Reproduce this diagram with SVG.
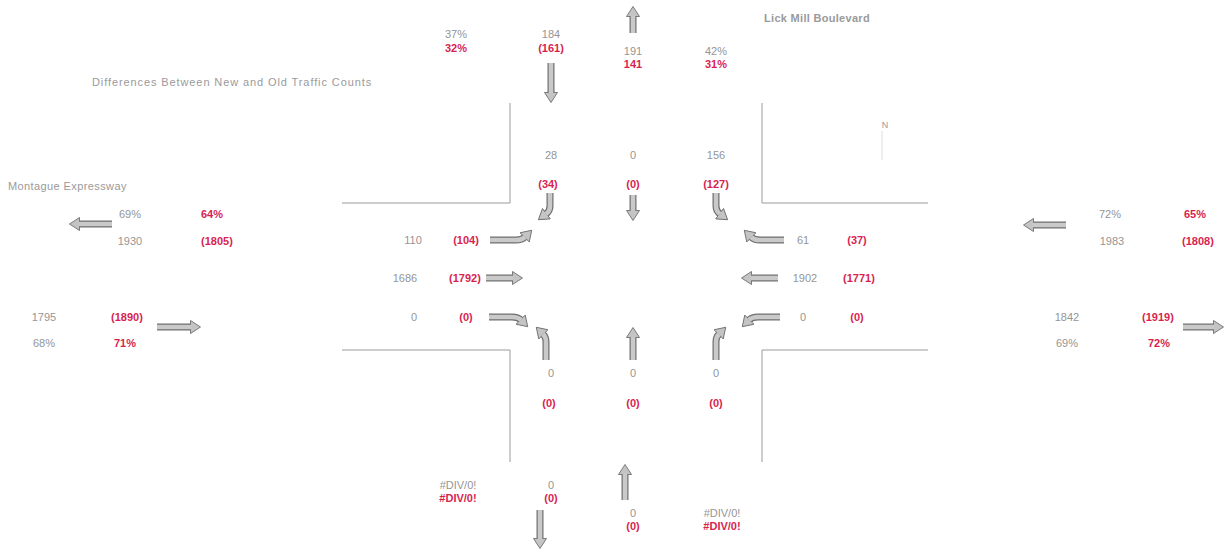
<svg xmlns="http://www.w3.org/2000/svg" width="1226" height="554" viewBox="0 0 1226 554">
<style>
text{font-family:"Liberation Sans",Arial,sans-serif;font-size:11px;text-anchor:middle}
.g{fill:#959595}
.r{fill:#d81f50;font-weight:bold}
.lbl{fill:#9a9a9a;font-size:11px;text-anchor:start}
.road{stroke:#9a9a9a;stroke-width:1;fill:none}
.so{fill:none;stroke:#6e6e6e;stroke-width:7;marker-end:url(#hd)}
.si{fill:none;stroke:#c9c9c9;stroke-width:4.6}
</style>
<defs>
<marker id="hd" viewBox="0 0 11 14" refX="1" refY="7" markerWidth="11" markerHeight="14" markerUnits="userSpaceOnUse" orient="auto">
<path d="M0.5,0.5 L10.5,7 L0.5,13.5 Z" fill="#c4c4c4" stroke="#6e6e6e" stroke-width="0.9"/>
</marker>
</defs>
<rect width="1226" height="554" fill="#fff"/>

<g id="roads">
<path class="road" d="M510,103 V203 H342"/>
<path class="road" d="M762,103 V203 H928"/>
<path class="road" d="M342,350 H510 V462"/>
<path class="road" d="M928,350 H762 V462"/>
</g>

<g id="connectors">
<path class="so" d="M633,33 V16"/><path class="si" d="M633,33 V16"/>
<path class="so" d="M551,63 V93"/><path class="si" d="M551,63 V93"/>
<path class="so" d="M112,224 H79"/><path class="si" d="M112,224 H79"/>
<path class="so" d="M157,327 H191"/><path class="si" d="M157,327 H191"/>
<path class="so" d="M633,195 V211"/><path class="si" d="M633,195 V211"/>
<path class="so" d="M486,278 H513"/><path class="si" d="M486,278 H513"/>
<path class="so" d="M778,278 H751"/><path class="si" d="M778,278 H751"/>
<path class="so" d="M633,360 V337"/><path class="si" d="M633,360 V337"/>
<path class="so" d="M1066,225 H1033"/><path class="si" d="M1066,225 H1033"/>
<path class="so" d="M1183,327 H1214"/><path class="si" d="M1183,327 H1214"/>
<path class="so" d="M540,510 V539"/><path class="si" d="M540,510 V539"/>
<path class="so" d="M625,500 V474"/><path class="si" d="M625,500 V474"/>
<path class="so" d="M550,193 V206 Q550,211 546,214"/><path class="si" d="M550,193 V206 Q550,211 546,214"/>
<path class="so" d="M716,193 V206 Q716,211 720,214"/><path class="si" d="M716,193 V206 Q716,211 720,214"/>
<path class="so" d="M490,240 H516 Q522,240 525,237"/><path class="si" d="M490,240 H516 Q522,240 525,237"/>
<path class="so" d="M489,317 H512 Q518,317 521,320"/><path class="si" d="M489,317 H512 Q518,317 521,320"/>
<path class="so" d="M784,240 H760 Q754,240 751,237"/><path class="si" d="M784,240 H760 Q754,240 751,237"/>
<path class="so" d="M780,317 H758 Q752,317 749,320"/><path class="si" d="M780,317 H758 Q752,317 749,320"/>
<path class="so" d="M546,360 V342 Q546,337 543,334"/><path class="si" d="M546,360 V342 Q546,337 543,334"/>
<path class="so" d="M716,360 V342 Q716,337 719,334"/><path class="si" d="M716,360 V342 Q716,337 719,334"/>
</g>

<g id="labels">
<text class="lbl" x="764" y="22" style="font-weight:bold;letter-spacing:0.3px">Lick Mill Boulevard</text>
<text class="lbl" x="92" y="86" style="letter-spacing:0.9px">Differences Between New and Old Traffic Counts</text>
<text class="lbl" x="8" y="190" style="letter-spacing:0.4px">Montague Expressway</text>
</g>

<g id="north">
<text x="885" y="128" style="font-size:9px;fill:#9a9a9a">N</text>
<path d="M882,131 V160" stroke="#dddddd" stroke-width="1"/>
</g>

<g id="north-approach">
<text class="g" x="456" y="38">37%</text><text class="r" x="456" y="52">32%</text>
<text class="g" x="551" y="38">184</text><text class="r" x="551" y="52">(161)</text>
<text class="g" x="633" y="55">191</text><text class="r" x="633" y="68">141</text>
<text class="g" x="716" y="55">42%</text><text class="r" x="716" y="68">31%</text>
</g>

<g id="southbound-turns">
<text class="g" x="551" y="159">28</text><text class="r" x="548" y="188">(34)</text>
<text class="g" x="633" y="159">0</text><text class="r" x="633" y="188">(0)</text>
<text class="g" x="716" y="159">156</text><text class="r" x="716" y="188">(127)</text>
</g>

<g id="west-approach">
<text class="g" x="130" y="218">69%</text><text class="r" x="212" y="218">64%</text>
<text class="g" x="130" y="245">1930</text><text class="r" x="217" y="245">(1805)</text>
<text class="g" x="44" y="321">1795</text><text class="r" x="127" y="321">(1890)</text>
<text class="g" x="44" y="347">68%</text><text class="r" x="125" y="347">71%</text>
</g>

<g id="eastbound-turns">
<text class="g" x="413" y="244">110</text><text class="r" x="466" y="244">(104)</text>
<text class="g" x="405" y="282">1686</text><text class="r" x="465" y="282">(1792)</text>
<text class="g" x="414" y="321">0</text><text class="r" x="466" y="321">(0)</text>
</g>

<g id="westbound-turns">
<text class="g" x="803" y="244">61</text><text class="r" x="857" y="244">(37)</text>
<text class="g" x="805" y="282">1902</text><text class="r" x="859" y="282">(1771)</text>
<text class="g" x="803" y="321">0</text><text class="r" x="857" y="321">(0)</text>
</g>

<g id="east-approach">
<text class="g" x="1110" y="218">72%</text><text class="r" x="1195" y="218">65%</text>
<text class="g" x="1112" y="245">1983</text><text class="r" x="1198" y="245">(1808)</text>
<text class="g" x="1067" y="321">1842</text><text class="r" x="1158" y="321">(1919)</text>
<text class="g" x="1067" y="347">69%</text><text class="r" x="1159" y="347">72%</text>
</g>

<g id="northbound-turns">
<text class="g" x="551" y="377">0</text><text class="r" x="549" y="407">(0)</text>
<text class="g" x="633" y="377">0</text><text class="r" x="633" y="407">(0)</text>
<text class="g" x="716" y="377">0</text><text class="r" x="716" y="407">(0)</text>
</g>

<g id="south-approach">
<text class="g" x="458" y="489">#DIV/0!</text><text class="r" x="458" y="502">#DIV/0!</text>
<text class="g" x="551" y="489">0</text><text class="r" x="551" y="502">(0)</text>
<text class="g" x="633" y="517">0</text><text class="r" x="633" y="530">(0)</text>
<text class="g" x="722" y="517">#DIV/0!</text><text class="r" x="722" y="530">#DIV/0!</text>
</g>
</svg>
